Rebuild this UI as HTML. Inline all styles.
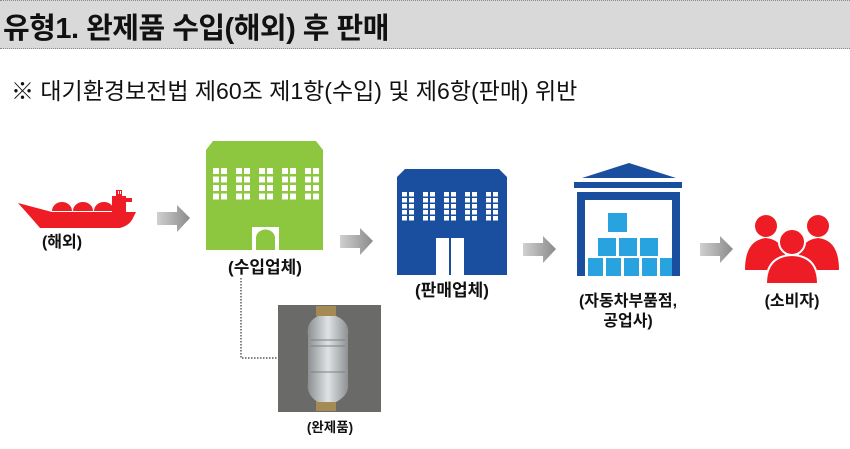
<!DOCTYPE html>
<html><head><meta charset="utf-8"><style>
body{margin:0;width:850px;height:449px;background:#fff;overflow:hidden;font-family:"Liberation Sans","Noto Sans CJK KR",sans-serif;}
.hdr{position:absolute;left:0;top:0;width:850px;height:49px;background:#d9d9d9;border-top:1px dotted #888;border-bottom:1px dotted #888;box-sizing:border-box;}
.t{position:absolute;left:3px;top:4px;font-size:29px;font-weight:bold;color:#111;letter-spacing:-0.5px;white-space:nowrap;}
.s{position:absolute;left:11px;top:72px;font-size:23px;color:#111;white-space:nowrap;}
svg{position:absolute;left:0;top:0}
</style></head><body>
<div class="hdr"><div class="t">유형1. 완제품 수입(해외) 후 판매</div></div>
<div class="s">※ 대기환경보전법 제60조 제1항(수입) 및 제6항(판매) 위반</div>
<svg width="850" height="449" viewBox="0 0 850 449">
<defs>
<linearGradient id="ag" x1="0" y1="0" x2="1" y2="0"><stop offset="0" stop-color="#d0d0d0"/><stop offset="1" stop-color="#8a8a8a"/></linearGradient>
<linearGradient id="ph" x1="0" y1="0" x2="1" y2="0"><stop offset="0" stop-color="#8a8f90"/><stop offset="0.5" stop-color="#dfe3e5"/><stop offset="1" stop-color="#8c9092"/></linearGradient>
<g id="arr"><path d="M0,7 H20 V0 L33,13 L20,27 V20 H0 Z" fill="url(#ag)"/></g>
</defs>
<!-- ship -->
<g fill="#ee1c25">
<path d="M18,203 L52,212 L136,212 L132,220 Q128,226 120,228 L40,228 Q28,214 18,203Z"/>
<path d="M52,211 a10,9 0 0 1 20,0Z M73,211 a10,9 0 0 1 20,0Z M94,211 a10,9 0 0 1 20,0Z"/>
<rect x="112" y="196" width="14" height="16"/><rect x="116" y="190" width="6" height="7"/><rect x="126" y="198" width="6" height="4"/>
</g>
<rect x="118" y="191" width="1" height="3" fill="#fff"/><rect x="120" y="191" width="1" height="3" fill="#fff"/>
<use href="#arr" x="157" y="205"/>
<!-- green building -->
<path d="M206,150 L213,141 L316,141 L323,150 V250 H206Z" fill="#8dc63f"/>
<g fill="#fff">
<g id="col"><rect x="213" y="168" width="6" height="6"/><rect x="221" y="168" width="6" height="6"/><rect x="213" y="176.5" width="6" height="6"/><rect x="221" y="176.5" width="6" height="6"/><rect x="213" y="185" width="6" height="6"/><rect x="221" y="185" width="6" height="6"/><rect x="213" y="193.5" width="6" height="6"/><rect x="221" y="193.5" width="6" height="6"/></g>
<use href="#col" x="23"/><use href="#col" x="46"/><use href="#col" x="69"/><use href="#col" x="92"/>
<rect x="252" y="227" width="27" height="23"/>
</g>
<path d="M256,250 V238 a9,8 0 0 1 19,0 V250Z" fill="#8dc63f"/>
<use href="#arr" x="340" y="228"/>
<!-- blue building -->
<path d="M397,177 L405,169 L499,169 L507,177 V275 H397Z" fill="#1a4e9e"/>
<g fill="#fff">
<g id="bc"><rect x="402" y="192" width="5" height="4.5"/><rect x="409" y="192" width="5" height="4.5"/><rect x="402" y="198" width="5" height="4.5"/><rect x="409" y="198" width="5" height="4.5"/><rect x="402" y="204" width="5" height="4.5"/><rect x="409" y="204" width="5" height="4.5"/><rect x="402" y="210" width="5" height="4.5"/><rect x="409" y="210" width="5" height="4.5"/><rect x="402" y="216" width="5" height="4.5"/><rect x="409" y="216" width="5" height="4.5"/></g>
<use href="#bc" x="21"/><use href="#bc" x="42"/><use href="#bc" x="63"/><use href="#bc" x="84"/>
<rect x="436" y="238" width="13" height="37"/><rect x="451" y="238" width="13" height="37"/>
</g>
<use href="#arr" x="523" y="236"/>
<!-- warehouse -->
<g fill="#1a4e9e">
<path d="M629,163 L676,178 L582,178Z"/>
<rect x="574" y="182" width="108" height="6"/>
<path d="M577,192 H680 V276 H672 V200 H585 V276 H577Z"/>
</g>
<g fill="#29a3e0">
<rect x="608" y="213" width="19" height="19"/>
<rect x="598" y="238" width="18" height="18"/><rect x="619" y="238" width="18" height="18"/><rect x="640" y="238" width="18" height="18"/>
<rect x="588" y="258" width="15" height="18"/><rect x="606" y="258" width="15" height="18"/><rect x="624" y="258" width="15" height="18"/><rect x="642" y="258" width="15" height="18"/><rect x="660" y="258" width="12" height="18"/>
</g>
<use href="#arr" x="700" y="236"/>
<!-- people -->
<g fill="#ee1c25">
<circle cx="766" cy="226" r="11"/><path d="M745,270 Q745,240 766,238 Q787,240 787,270Z"/>
<circle cx="818" cy="226" r="11"/><path d="M797,270 Q797,240 818,238 Q839,240 839,270Z"/>
</g>
<circle cx="792" cy="242" r="13" fill="#ee1c25" stroke="#fff" stroke-width="2"/>
<path d="M766,284 Q766,256 792,255 Q818,256 818,284Z" fill="#ee1c25" stroke="#fff" stroke-width="2"/>
<!-- dotted connector -->
<path d="M241,278 V358 H278" fill="none" stroke="#333" stroke-width="1.2" stroke-dasharray="1.5,1.5"/>
<!-- photo -->
<rect x="278" y="305" width="103" height="107" fill="#6a6b68"/>
<rect x="316" y="306" width="20" height="10" fill="#a58a55"/><rect x="316" y="400" width="20" height="11" fill="#a58a55"/>
<path d="M318,316 Q306,322 308,335 V382 Q306,395 318,402 H336 Q350,395 348,382 V335 Q350,322 336,316Z" fill="url(#ph)"/>
<g stroke="#7b8083" stroke-width="1"><line x1="311" y1="340" x2="345" y2="340"/><line x1="311" y1="346" x2="345" y2="346"/><line x1="311" y1="372" x2="345" y2="372"/></g>
<!-- labels -->
<g font-family="Liberation Sans,Noto Sans CJK KR,sans-serif" font-weight="bold" fill="#111" text-anchor="middle">
<text x="62" y="247" font-size="16">(해외)</text>
<text x="265" y="273" font-size="17">(수입업체)</text>
<text x="452" y="296" font-size="17">(판매업체)</text>
<text x="628" y="306" font-size="16">(자동차부품점,</text>
<text x="628" y="326" font-size="16">공업사)</text>
<text x="792" y="306" font-size="16">(소비자)</text>
<text x="330" y="432" font-size="13.5">(완제품)</text>
</g>
</svg>
</body></html>
